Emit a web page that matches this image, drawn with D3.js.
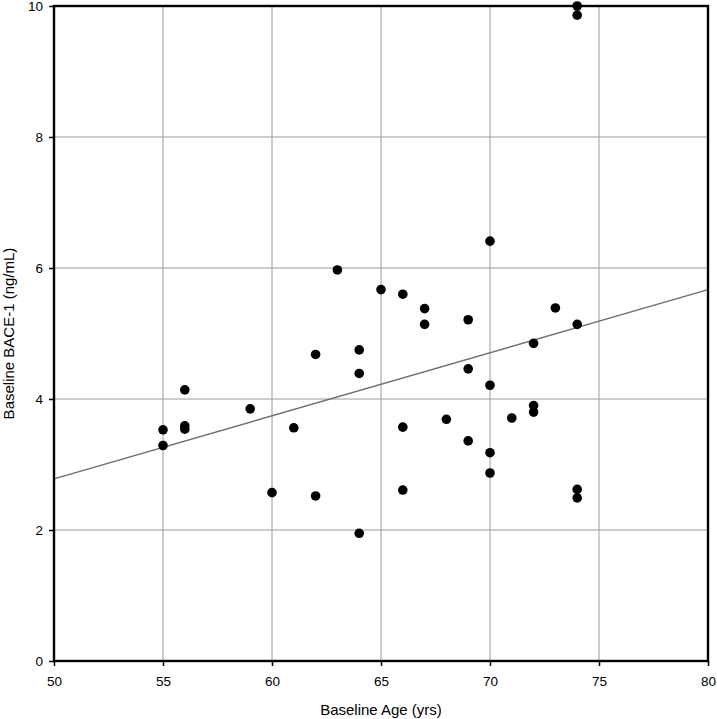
<!DOCTYPE html>
<html>
<head>
<meta charset="utf-8">
<script src="https://cdn.jsdelivr.net/npm/d3@7"></script>
<style>
  body { margin: 0; background: #fff; }
  svg text { font-family: "Liberation Sans", Arial, sans-serif; fill: #000; }
</style>
</head>
<body>
<div id="chart"></div>
<script>
/*
 * DATA
 */

var ages = [55, 55, 56, 56, 56, 59, 60, 61, 62, 62,
            63, 64, 64, 64, 65, 66, 66, 66, 67, 67,
            68, 69, 69, 69, 70, 70, 70, 70, 71, 72,
            72, 72, 73, 74, 74, 74, 74, 74];
var baceLevels = [3.53, 3.29, 4.14, 3.59, 3.54, 3.85, 2.57, 3.56, 4.68, 2.52,
                  5.97, 4.75, 4.39, 1.95, 5.67, 5.60, 3.57, 2.61, 5.38, 5.14,
                  3.69, 5.21, 4.46, 3.36, 6.41, 4.21, 3.18, 2.87, 3.71, 4.85,
                  3.90, 3.80, 5.39, 10.0, 9.86, 5.14, 2.62, 2.49];
var xTicks = [50, 55, 60, 65, 70, 75, 80];
var yTicks = [0, 2, 4, 6, 8, 10];
// fitted line, read at both ends of the x range
var fitAges = [50, 80];
var fitLevels = [2.78, 5.67];

var xTitle = "Baseline Age (yrs)";
var yTitle = "Baseline BACE-1 (ng/mL)";

/*
 * LAYOUT
 */

var width = 717, height = 719;
var margin = {top: 6, right: 9, bottom: 58, left: 54};

var points = ages.map(function (a, i) { return {age: a, bace: baceLevels[i]}; });
var fit = fitAges.map(function (a, i) { return {age: a, bace: fitLevels[i]}; });

var svg = d3.select('#chart').append('svg')
    .attr('width', width)
    .attr('height', height);

var x = d3.scaleLinear().domain([50, 80]).range([margin.left, width - margin.right]);
var y = d3.scaleLinear().domain([0, 10]).range([height - margin.bottom, margin.top]);

// grid
svg.append('g').selectAll('line').data(xTicks).enter().append('line')
    .attr('x1', function (d) { return x(d); })
    .attr('x2', function (d) { return x(d); })
    .attr('y1', y(0)).attr('y2', y(10))
    .attr('stroke', '#9a9a9a').attr('stroke-width', 1);
svg.append('g').selectAll('line').data(yTicks).enter().append('line')
    .attr('y1', function (d) { return y(d); })
    .attr('y2', function (d) { return y(d); })
    .attr('x1', x(50)).attr('x2', x(80))
    .attr('stroke', '#9a9a9a').attr('stroke-width', 1);

// axes
var xAxis = svg.append('g')
    .attr('transform', 'translate(0,' + y(0) + ')')
    .call(d3.axisBottom(x).tickValues(xTicks).tickSize(5).tickPadding(10));
var yAxis = svg.append('g')
    .attr('transform', 'translate(' + x(50) + ',0)')
    .call(d3.axisLeft(y).tickValues(yTicks).tickSize(5).tickPadding(6));

[xAxis, yAxis].forEach(function (ax) {
    ax.select('.domain').remove();
    ax.selectAll('.tick line').attr('stroke', '#000').attr('stroke-width', 1.5);
    ax.selectAll('.tick text')
        .style('font-family', '"Liberation Sans", Arial, sans-serif')
        .style('font-size', '13.5px')
        .attr('fill', '#000');
});

// fitted line
svg.append('path')
    .datum(fit)
    .attr('fill', 'none')
    .attr('stroke', '#6e6e6e')
    .attr('stroke-width', 1.4)
    .attr('d', d3.line()
        .x(function (d) { return x(d.age); })
        .y(function (d) { return y(d.bace); }));

// frame
svg.append('rect')
    .attr('x', x(50)).attr('y', y(10))
    .attr('width', x(80) - x(50))
    .attr('height', y(0) - y(10))
    .attr('fill', 'none')
    .attr('stroke', '#000')
    .attr('stroke-width', 2.4);

// points
svg.append('g').selectAll('circle').data(points).enter().append('circle')
    .attr('cx', function (d) { return x(d.age); })
    .attr('cy', function (d) { return y(d.bace); })
    .attr('r', 4.8)
    .attr('fill', '#000');

// titles
svg.append('text')
    .attr('x', (x(50) + x(80)) / 2)
    .attr('y', 715)
    .attr('text-anchor', 'middle')
    .style('font-size', '15px')
    .text(xTitle);

svg.append('text')
    .attr('transform', 'translate(13.5,' + (y(0) + y(10)) / 2 + ') rotate(-90)')
    .attr('text-anchor', 'middle')
    .style('font-size', '15px')
    .text(yTitle);
</script>
</body>
</html>
